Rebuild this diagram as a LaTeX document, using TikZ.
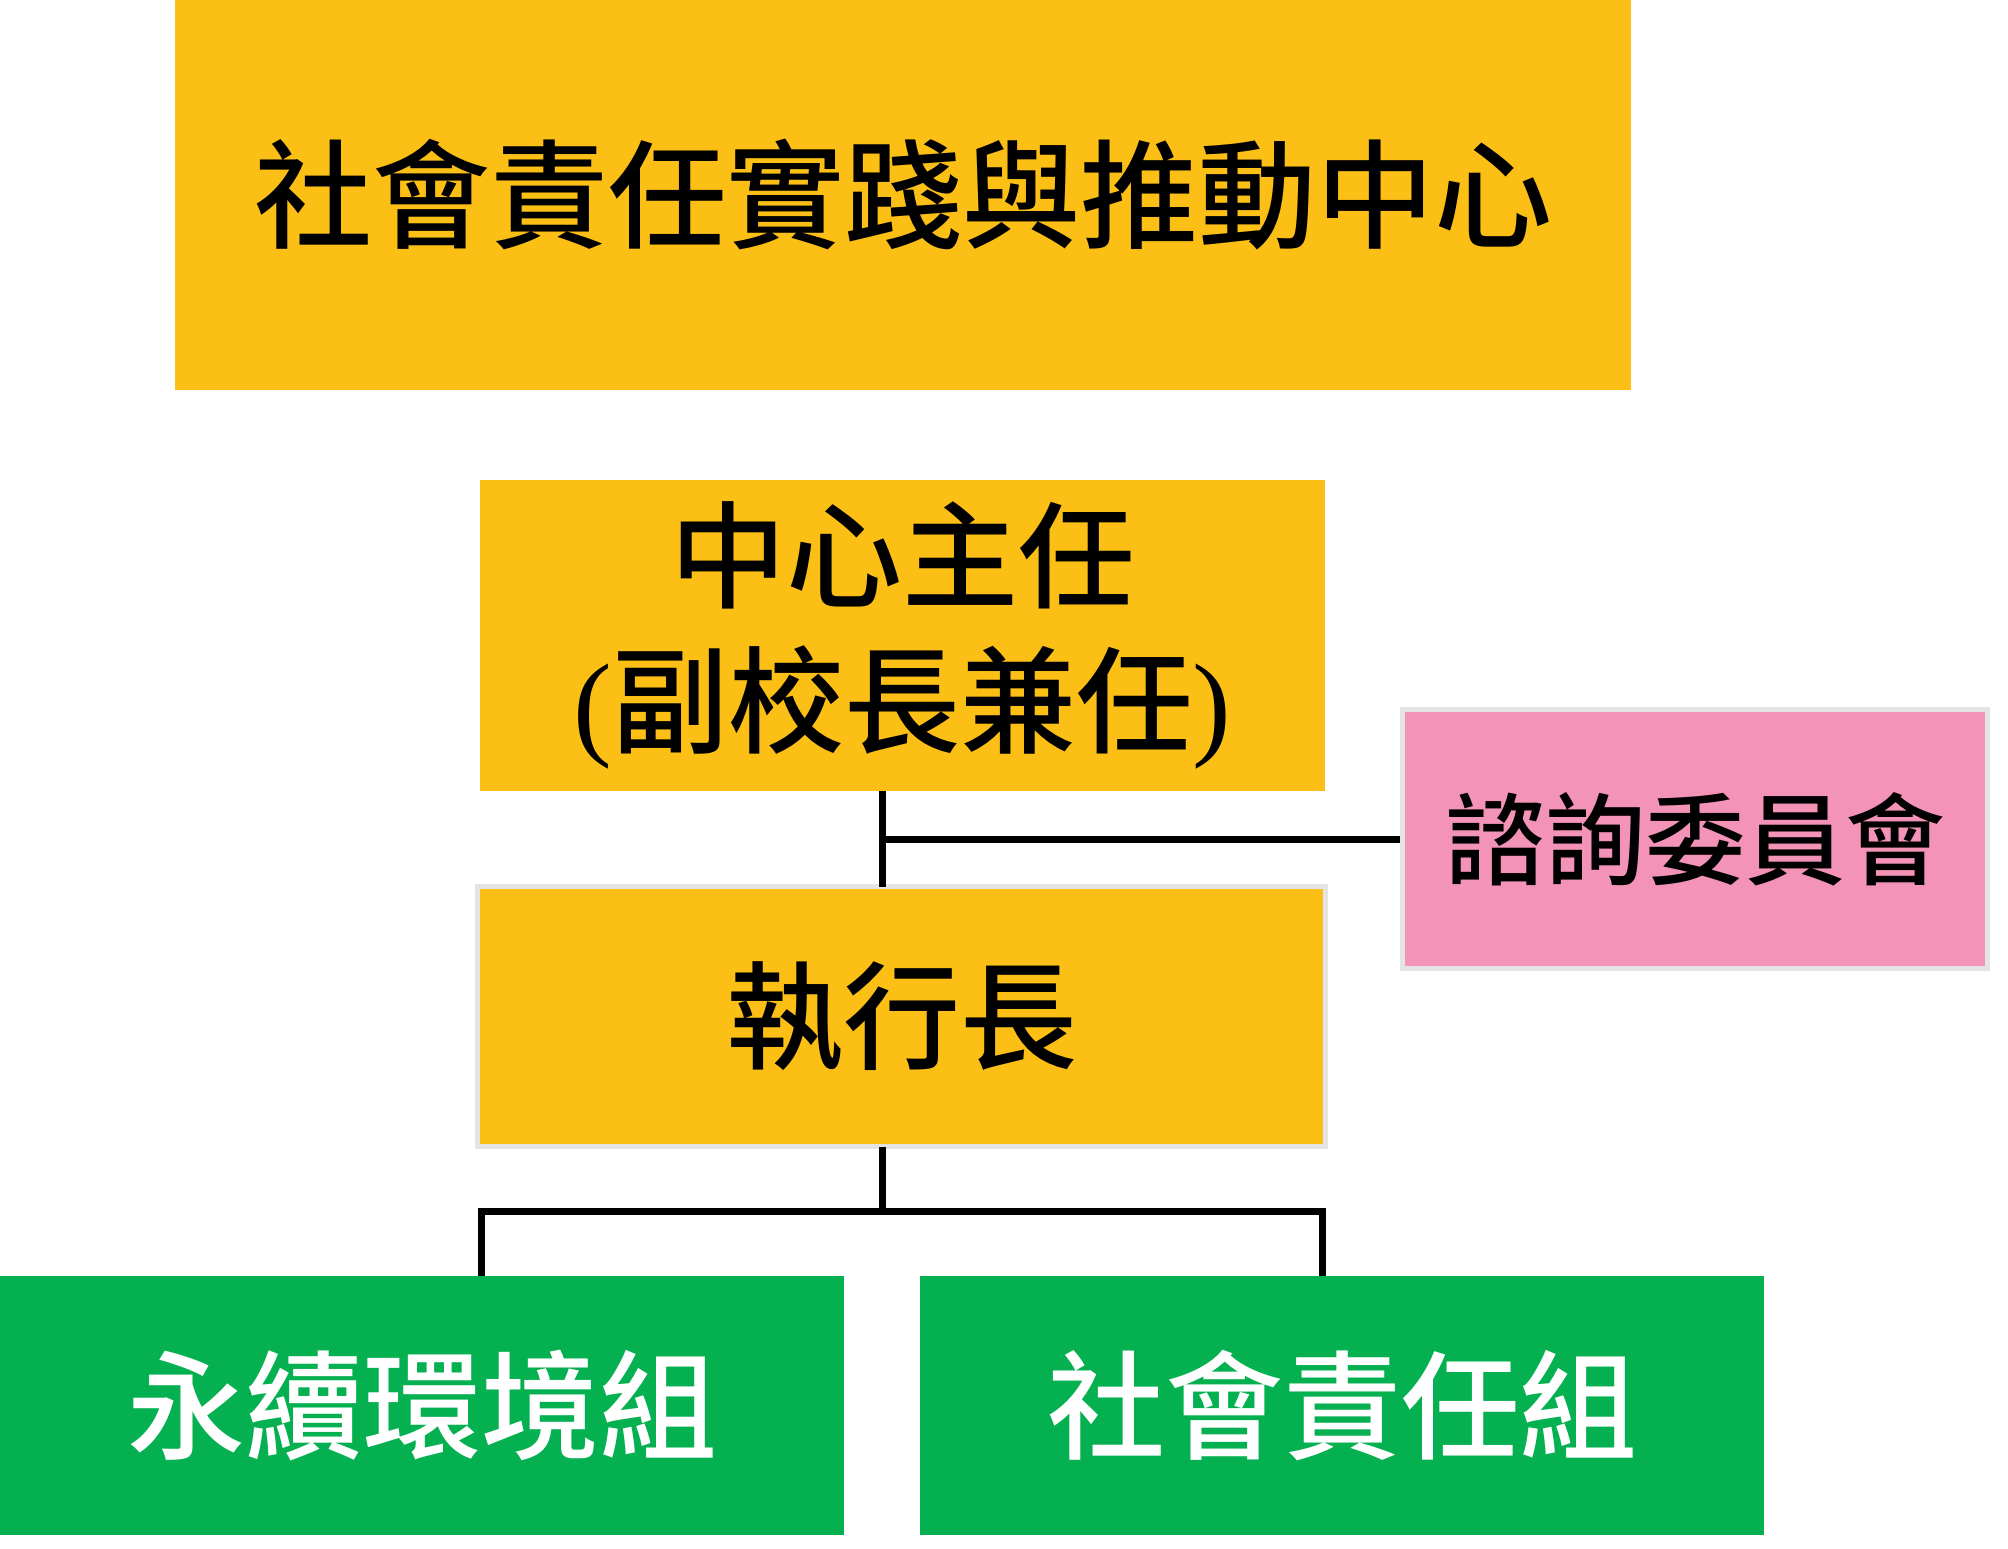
\documentclass[tikz,border=0pt]{standalone}
\usepackage{fontspec}
\newfontfamily\cjk{Noto Sans CJK TC}[BoldFont={Noto Sans CJK TC Medium}]
\newfontfamily\parenfont{Liberation Serif}
\definecolor{boxyellow}{HTML}{FBBF16}
\definecolor{boxpink}{HTML}{F493B8}
\definecolor{boxgreen}{HTML}{05B050}
\definecolor{edgegray}{HTML}{E4E4E4}
\tikzset{
  base/.style={rectangle, inner sep=0pt, outer sep=0pt, anchor=center, align=center},
  yellowbox/.style={base, fill=boxyellow, text=black},
  pinkbox/.style={base, fill=boxpink, text=black},
  greenbox/.style={base, fill=boxgreen, text=white},
  rimmed/.style={draw=edgegray, line width=5pt},
  link/.style={draw=black, line width=6.5pt}
}
\begin{document}
\begin{tikzpicture}[x=1pt,y=-1pt]
\useasboundingbox[fill=white] (0,0) rectangle (2008,1549);
% nodes
\node[yellowbox, minimum width=1456pt, minimum height=390pt,
  font=\cjk\bfseries\fontsize{118}{130}\selectfont] (top) at (903,195)
  {社會責任實踐與推動中心};
\node[yellowbox, minimum width=845pt, minimum height=311pt,
  font=\cjk\bfseries\fontsize{116}{145}\selectfont] (dir) at (902.5,635.5)
  {中心主任\\{\parenfont\mdseries (}副校長兼任{\parenfont\mdseries )}};
\node[yellowbox, rimmed, minimum width=848pt, minimum height=260pt,
  font=\cjk\bfseries\fontsize{117}{130}\selectfont] (exec) at (901.5,1016.5)
  {執行長};
\node[pinkbox, rimmed, minimum width=585pt, minimum height=259pt,
  font=\cjk\bfseries\fontsize{100}{110}\selectfont] (adv) at (1695,839)
  {諮詢委員會};
\node[greenbox, minimum width=844pt, minimum height=259pt,
  font=\cjk\bfseries\fontsize{118}{130}\selectfont] (env) at (422,1405.5)
  {永續環境組};
\node[greenbox, minimum width=844pt, minimum height=259pt,
  font=\cjk\bfseries\fontsize{118}{130}\selectfont] (csr) at (1342,1405.5)
  {社會責任組};
% junctions
\coordinate (j1) at (882.5,839.5);
\coordinate (j2) at (882.5,1211.5);
\coordinate (dL) at (481.5,1211.5);
\coordinate (dR) at (1322.5,1211.5);
% connectors
\draw[link] (j1 |- dir.south) -- (j1 |- exec.north);
\draw[link, shorten >=2.5pt] (j1) -- (adv.west |- j1);
\draw[link] (j2 |- exec.south) -- (j2);
\draw[link] (dL |- env.north) -- (dL) -- (dR) -- (dR |- csr.north);
\end{tikzpicture}
\end{document}
